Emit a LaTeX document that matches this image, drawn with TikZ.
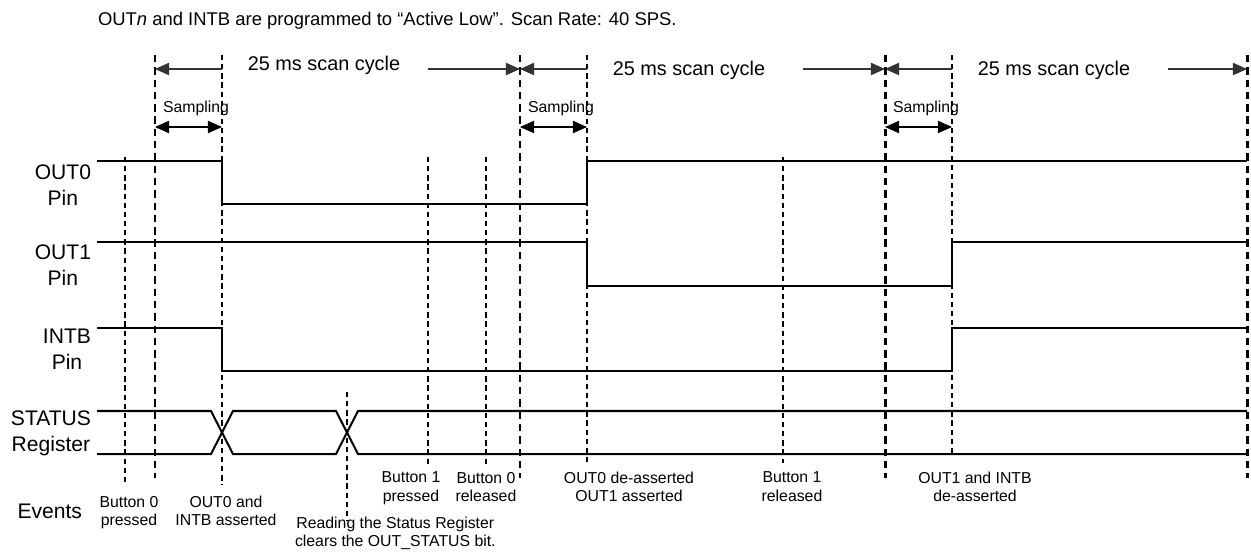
\documentclass[tikz,border=0pt]{standalone}
\usepackage{fontspec}
\setmainfont{Liberation Sans}
\usetikzlibrary{calc}
\usetikzlibrary{positioning}
\usetikzlibrary{arrows.meta}

\begin{document}
\begin{tikzpicture}
  [
  x=0.02cm, y=-0.02cm,
  % 文字の余白
  every node/.style={inner sep=0, outer sep=0},
  % 信号線
  sig/.style={line width=1.15pt},
  % スキャンサイクルの境界
  bound/.style={line width=1.7pt, dash pattern=on 4.2pt off 2.8pt},
  % イベントの線
  evline/.style={line width=0.75pt, dash pattern=on 3pt off 2.2pt},
  % 矢印
  arrow/.style={-{Triangle[length=8pt, width=7pt]}, line width=0.6pt, black!80},
  % 両矢印
  dim/.style={{Triangle[length=8pt, width=7pt]}-{Triangle[length=8pt, width=7pt]}, line width=0.6pt},
  % 信号名
  pinlabel/.style={anchor=east, align=center, font=\fontsize{12}{14.8}\selectfont},
  % イベントの説明
  note/.style={anchor=north, align=center, font=\fontsize{9}{10.5}\selectfont},
  % 文字の大きさ
  scantext/.style={font=\fontsize{11.3}{13}\selectfont},
  smalltext/.style={font=\fontsize{9}{10.5}\selectfont}
  ]
  \useasboundingbox (0,0) rectangle (1251,552);
  % タイトル
  \node [anchor=base west, font=\fontsize{10.5}{12}\selectfont] (title) at (98,25)
  {OUT\textit{n} and INTB are programmed to “Active Low”. Scan Rate: 40 SPS.};

  % 境界線
  \foreach \x in {155,520,885,1247}
  \draw [bound] (\x,55) -- (\x,478);
  % サンプリング終了
  \foreach \x/\y in {222/485, 587/463, 952/454}
  \draw [evline] (\x,55) -- (\x,\y);
  % ボタン・読み出し
  \foreach \x/\a/\b in {125/157/485, 428/157/465, 486/157/465, 783/157/463, 347/392/520}
  \draw [evline] (\x,\a) -- (\x,\b);

  % スキャンサイクルとサンプリング
  \foreach \a/\b/\c/\ty [count=\i] in {155/520/428/70, 520/885/803/75, 885/1247/1168/75}{
    \node [anchor=base, scantext] (scan\i) at (\a+169,\ty) {25 ms scan cycle};
    \draw [arrow] (\a+67,69) -- (\a,69);
    \draw [arrow] (\c,69) -- (\b,69);
    \node [anchor=base west, smalltext] (samp\i) at (\a+8,112) {Sampling};
    \draw [dim] (\a,127) -- (\a+67,127);
  }

  % 信号名
  \node [pinlabel] (out0) at (91,185) {OUT0\\Pin};
  \node [pinlabel] (out1) at (91,265) {OUT1\\Pin};
  \node [pinlabel] (intb) at (91,349) {INTB\\Pin};
  \node [pinlabel] (status) at (91,433) {STATUS\\Register};
  \node [pinlabel] (events) at (82,511) {Events};

  % 波形
  \draw [sig] (97,161) -| (222,204) -| (587,161) -- (1247,161);
  \draw [sig] (97,242) -| (587,286) -| (952,242) -- (1247,242);
  \draw [sig] (97,328) -| (222,371) -| (952,328) -- (1247,328);
  \draw [sig] (97,411) -- (211,411) -- (233,454) -- (336,454) -- (358,411) -- (1247,411);
  \draw [sig] (97,454) -- (211,454) -- (233,411) -- (336,411) -- (358,454) -- (1247,454);

  % イベント
  \node [note] (b0p) at (129,496) {Button 0\\pressed};
  \node [note] (asrt) at (226,496) {OUT0 and\\INTB asserted};
  \node [note, anchor=north west] (read) at (295,517) {Reading the Status Register\\clears the OUT\_STATUS bit.};
  \node [note] (b1p) at (411,472) {Button 1\\pressed};
  \node [note] (b0r) at (486,472) {Button 0\\released};
  \node [note] (deas) at (629,472) {OUT0 de-asserted\\OUT1 asserted};
  \node [note] (b1r) at (792,472) {Button 1\\released};
  \node [note] (deas1) at (975,472) {OUT1 and INTB\\de-asserted};
\end{tikzpicture}
\end{document}
